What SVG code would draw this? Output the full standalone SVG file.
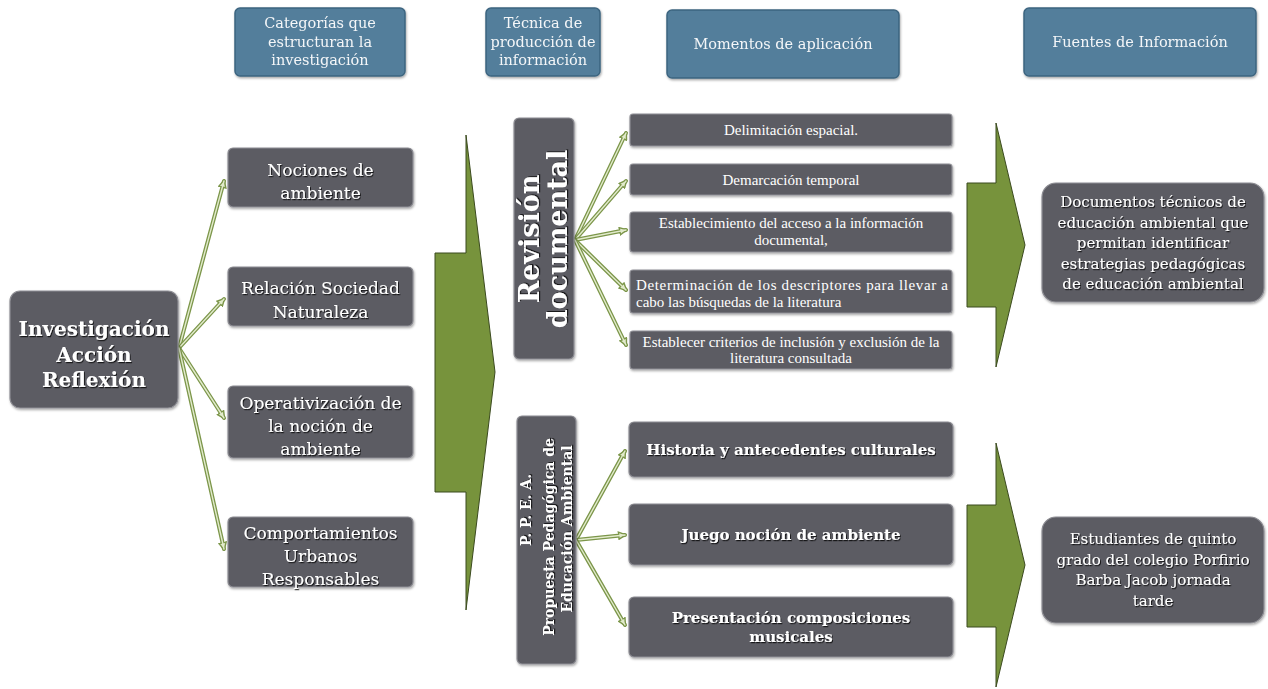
<svg xmlns="http://www.w3.org/2000/svg" xmlns:xlink="http://www.w3.org/1999/xlink" width="1268" height="689" viewBox="0 0 1268 689">
<style>
.hdr{fill:#537e9b;stroke:#3d6580;stroke-width:1.5}
.node{fill:#5c5c64;stroke:#8d8d93;stroke-width:1.2}
.arrow{fill:#77933c;stroke:#3b4a1f;stroke-width:1}
.ht{font-family:"DejaVu Serif",serif;font-size:14.5px;fill:#f4f6f8;text-anchor:middle}
.nt{font-family:"DejaVu Serif",serif;font-size:17px;fill:#ffffff;text-anchor:middle}
.bt{font-family:"DejaVu Serif",serif;font-weight:bold;fill:#ffffff;text-anchor:middle}
.st{font-family:"Liberation Serif","Times New Roman",serif;font-size:15px;fill:#ffffff;text-anchor:middle}
.sl{text-anchor:start}
.rt{font-family:"DejaVu Serif",serif;font-size:15px;fill:#ffffff;text-anchor:middle}
.out{fill:none;stroke:#7c964a;stroke-width:4;stroke-linecap:round}
.in{fill:none;stroke:#e2ebcc;stroke-width:1.4;stroke-linecap:round}
</style>
<defs>
<filter id="ts" x="-10%" y="-30%" width="120%" height="160%">
<feDropShadow dx="1" dy="1.2" stdDeviation="0.7" flood-color="#000" flood-opacity="0.75"/>
</filter>
<filter id="bs" x="-10%" y="-10%" width="120%" height="130%">
<feDropShadow dx="0.8" dy="1.5" stdDeviation="1.2" flood-color="#000" flood-opacity="0.35"/>
</filter>
<marker id="ah" viewBox="0 0 10 10" refX="8" refY="5" markerWidth="9" markerHeight="9" markerUnits="userSpaceOnUse" orient="auto">
<path d="M1,1 L9,5 L1,9 z" fill="#e2ebcc" stroke="#7c964a" stroke-width="1.6"/>
</marker>
<path id="l1" d="M179,348 L224,181"/>
<path id="l2" d="M179,348 L224,299"/>
<path id="l3" d="M179,348 L224,418"/>
<path id="l4" d="M179,348 L224,549"/>
<path id="r1" d="M575,240 L626,133"/>
<path id="r2" d="M575,240 L626,181"/>
<path id="r3" d="M575,240 L626,230"/>
<path id="r4" d="M575,240 L626,290"/>
<path id="r5" d="M575,240 L626,345"/>
<path id="p1" d="M576,540 L625,451"/>
<path id="p2" d="M576,540 L625,535"/>
<path id="p3" d="M576,540 L625,625"/>
</defs>
<rect width="1268" height="689" fill="#ffffff"/>

<g id="headers" filter="url(#bs)">
<g id="h-categorias">
<rect class="hdr" x="235" y="8" width="170" height="68" rx="5"/>
<text class="ht"><tspan x="320" y="28">Categorías que</tspan><tspan x="320" y="46.5">estructuran la</tspan><tspan x="320" y="65">investigación</tspan></text>
</g>
<g id="h-tecnica">
<rect class="hdr" x="486" y="8" width="114" height="68" rx="5"/>
<text class="ht"><tspan x="543" y="28">Técnica de</tspan><tspan x="543" y="46.5">producción de</tspan><tspan x="543" y="65">información</tspan></text>
</g>
<g id="h-momentos">
<rect class="hdr" x="667" y="10" width="232" height="68" rx="5"/>
<text class="ht" x="783" y="49">Momentos de aplicación</text>
</g>
<g id="h-fuentes">
<rect class="hdr" x="1024" y="8" width="232" height="68" rx="5"/>
<text class="ht" x="1140" y="47">Fuentes de Información</text>
</g>
</g>

<g id="big-arrows">
<polygon id="arrow-1" class="arrow" points="435,253 466,253 466,135 495,372 466,610 466,492 435,492"/>
<polygon id="arrow-2" class="arrow" points="967,183 996,183 996,123 1025,245 996,367 996,307 967,307"/>
<polygon id="arrow-3" class="arrow" points="967,505 996,505 996,443 1025,565 996,687 996,627 967,627"/>
</g>

<g id="connectors">
<use xlink:href="#l1" class="out" marker-end="url(#ah)"/><use xlink:href="#l1" class="in"/>
<use xlink:href="#l2" class="out" marker-end="url(#ah)"/><use xlink:href="#l2" class="in"/>
<use xlink:href="#l3" class="out" marker-end="url(#ah)"/><use xlink:href="#l3" class="in"/>
<use xlink:href="#l4" class="out" marker-end="url(#ah)"/><use xlink:href="#l4" class="in"/>
<use xlink:href="#r1" class="out" marker-end="url(#ah)"/><use xlink:href="#r1" class="in"/>
<use xlink:href="#r2" class="out" marker-end="url(#ah)"/><use xlink:href="#r2" class="in"/>
<use xlink:href="#r3" class="out" marker-end="url(#ah)"/><use xlink:href="#r3" class="in"/>
<use xlink:href="#r4" class="out" marker-end="url(#ah)"/><use xlink:href="#r4" class="in"/>
<use xlink:href="#r5" class="out" marker-end="url(#ah)"/><use xlink:href="#r5" class="in"/>
<use xlink:href="#p1" class="out" marker-end="url(#ah)"/><use xlink:href="#p1" class="in"/>
<use xlink:href="#p2" class="out" marker-end="url(#ah)"/><use xlink:href="#p2" class="in"/>
<use xlink:href="#p3" class="out" marker-end="url(#ah)"/><use xlink:href="#p3" class="in"/>
</g>

<g id="n-iar">
<rect class="node" x="10" y="291" width="168" height="117" rx="10" filter="url(#bs)"/>
<text class="bt" font-size="20" filter="url(#ts)"><tspan x="94" y="336">Investigación</tspan><tspan x="94" y="362">Acción</tspan><tspan x="94" y="387">Reflexión</tspan></text>
</g>

<g id="n-nociones">
<rect class="node" x="228" y="148" width="185" height="59" rx="5" filter="url(#bs)"/>
<text class="nt" filter="url(#ts)"><tspan x="320.5" y="176">Nociones de</tspan><tspan x="320.5" y="199">ambiente</tspan></text>
</g>
<g id="n-relacion">
<rect class="node" x="228" y="267" width="185" height="59" rx="5" filter="url(#bs)"/>
<text class="nt" filter="url(#ts)"><tspan x="320.5" y="294">Relación Sociedad</tspan><tspan x="320.5" y="318">Naturaleza</tspan></text>
</g>
<g id="n-operativizacion">
<rect class="node" x="228" y="386" width="185" height="72" rx="5" filter="url(#bs)"/>
<text class="nt" filter="url(#ts)"><tspan x="320.5" y="409">Operativización de</tspan><tspan x="320.5" y="432">la noción de</tspan><tspan x="320.5" y="455">ambiente</tspan></text>
</g>
<g id="n-comportamientos">
<rect class="node" x="228" y="517" width="185" height="70" rx="5" filter="url(#bs)"/>
<text class="nt" filter="url(#ts)"><tspan x="320.5" y="539">Comportamientos</tspan><tspan x="320.5" y="562">Urbanos</tspan><tspan x="320.5" y="585">Responsables</tspan></text>
</g>

<g id="n-revision">
<rect class="node" x="514" y="118" width="60" height="241" rx="5" filter="url(#bs)"/>
<g transform="translate(543,239) rotate(-90)">
<text class="bt" font-size="27" filter="url(#ts)"><tspan x="0" y="-4">Revisión</tspan><tspan x="0" y="24">documental</tspan></text>
</g>
</g>

<g id="n-delimitacion">
<rect class="node" x="630" y="114" width="322" height="32" rx="3" filter="url(#bs)"/>
<text class="st" x="791" y="135">Delimitación espacial.</text>
</g>
<g id="n-demarcacion">
<rect class="node" x="630" y="164" width="322" height="31" rx="3" filter="url(#bs)"/>
<text class="st" x="791" y="185">Demarcación temporal</text>
</g>
<g id="n-establecimiento">
<rect class="node" x="630" y="212" width="322" height="40" rx="3" filter="url(#bs)"/>
<text class="st"><tspan x="791" y="228">Establecimiento del acceso a la información</tspan><tspan x="791" y="245">documental,</tspan></text>
</g>
<g id="n-determinacion">
<rect class="node" x="630" y="270" width="322" height="43" rx="3" filter="url(#bs)"/>
<text class="st sl" x="636" y="290" textLength="312" lengthAdjust="spacing">Determinación de los descriptores para llevar a</text>
<text class="st sl" x="636" y="307">cabo las búsquedas de la literatura</text>
</g>
<g id="n-establecer">
<rect class="node" x="630" y="331" width="322" height="38" rx="3" filter="url(#bs)"/>
<text class="st"><tspan x="791" y="347">Establecer criterios de inclusión y exclusión de la</tspan><tspan x="791" y="363">literatura consultada</tspan></text>
</g>

<g id="n-ppea">
<rect class="node" x="517" y="416" width="59" height="248" rx="5" filter="url(#bs)"/>
<g transform="translate(546,540) rotate(-90)">
<text class="bt" font-size="14" filter="url(#ts)"><tspan x="30" y="-15">P. P. E. A.</tspan><tspan x="3" y="8">Propuesta Pedagógica de</tspan><tspan x="11" y="26">Educación Ambiental</tspan></text>
</g>
</g>

<g id="n-historia">
<rect class="node" x="629" y="422" width="324" height="55" rx="5" filter="url(#bs)"/>
<text class="bt" font-size="15" x="791" y="455" filter="url(#ts)">Historia y antecedentes culturales</text>
</g>
<g id="n-juego">
<rect class="node" x="629" y="504" width="324" height="61" rx="5" filter="url(#bs)"/>
<text class="bt" font-size="15" x="791" y="540" filter="url(#ts)">Juego noción de ambiente</text>
</g>
<g id="n-presentacion">
<rect class="node" x="629" y="597" width="324" height="60" rx="5" filter="url(#bs)"/>
<text class="bt" font-size="15" filter="url(#ts)"><tspan x="791" y="623">Presentación composiciones</tspan><tspan x="791" y="642">musicales</tspan></text>
</g>

<g id="n-documentos">
<rect class="node" x="1042" y="183" width="222" height="119" rx="14" filter="url(#bs)"/>
<text class="rt" filter="url(#ts)"><tspan x="1153" y="207">Documentos técnicos de</tspan><tspan x="1153" y="227.5">educación ambiental que</tspan><tspan x="1153" y="248">permitan identificar</tspan><tspan x="1153" y="268.5">estrategias pedagógicas</tspan><tspan x="1153" y="289">de educación ambiental</tspan></text>
</g>
<g id="n-estudiantes">
<rect class="node" x="1042" y="517" width="222" height="106" rx="14" filter="url(#bs)"/>
<text class="rt" filter="url(#ts)"><tspan x="1153" y="544">Estudiantes de quinto</tspan><tspan x="1153" y="564.5">grado del colegio Porfirio</tspan><tspan x="1153" y="585">Barba Jacob jornada</tspan><tspan x="1153" y="605.5">tarde</tspan></text>
</g>
</svg>
